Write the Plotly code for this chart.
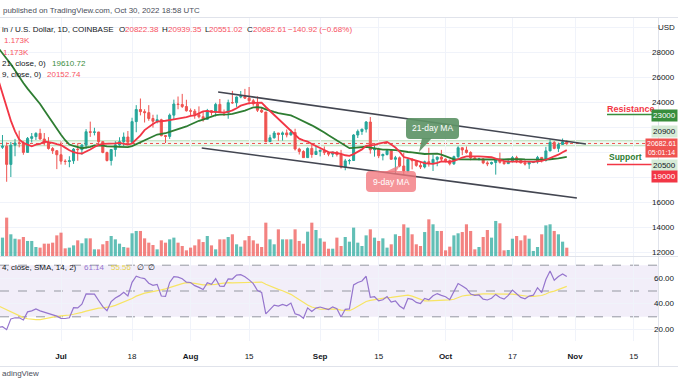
import pandas as pd
import numpy as np
import plotly.graph_objects as go

# ---------------- data ----------------
hist_close = [38470, 38530, 37750, 39690, 36550, 36010, 35470, 34060, 30300, 31010,
              28940, 29050, 29280, 30080, 31310, 29860, 30430, 28720, 30300, 29200,
              29430, 30320, 29100, 29650, 29540, 29200, 28630, 29030, 29470, 31730, 31800,
              29800, 30450, 29700, 29860, 29910, 31370, 31130, 30200, 30110, 29080,
              28420, 26570, 22480, 22130, 22580]

open_ = [22580, 20380, 20470, 19010, 20550, 20720, 20710, 19970, 21090, 21230, 21490, 21040, 20730, 20280, 20100,
         19780, 19270, 19240, 19300, 20230, 20190, 20550, 21620, 21580, 21600, 20830, 19960, 19320, 20200, 20570,
         20830, 21200, 20780, 22430, 23400, 23230, 23150, 22680, 22460, 22580, 21310, 21250, 22950, 23840, 23800, 23640,
         23300, 23270, 22980, 22820, 22620, 23310, 23180, 23810, 23160, 23150, 23950, 23940, 24400, 24440, 24310,
         24100, 23850, 23340, 23200, 20830, 21140, 21520, 21400, 21530, 21370, 21560, 20240, 20040, 19550, 20290, 19800,
         20050, 20130, 19950, 19830, 20000, 19800, 18800, 19290, 19320, 21360, 21650, 21830, 22400, 20180, 20240,
         19700, 19800, 20110, 19420, 19540, 18880, 18490, 19410, 19300, 18930, 18800, 19220, 19080, 19410, 19590,
         19430, 19310, 19060, 19630, 20340, 20160, 19960, 19530, 19420, 19450, 19130, 19060, 19160, 19380, 19180,
         19070, 19260, 19550, 19330, 19130, 19040, 19170, 19210, 19570, 19330, 20090, 20770, 20290, 20600, 20822.38]
high = [22970, 21360, 20770, 20800, 21050, 21710, 20860, 21200, 21520, 21580, 21860, 21520, 21190, 20400, 20160,
        20850, 19420, 19660, 20320, 20710, 20650, 21830, 22430, 21940, 21610, 20840, 20030, 20220, 20860, 21180,
        21560, 21680, 22740, 23750, 24280, 23420, 23750, 22980, 22990, 22660, 21350, 23080, 24190, 24440, 24650, 24180,
        23480, 23440, 23650, 23210, 23450, 23360, 23940, 24240, 23400, 24190, 24890, 24440, 24880, 25050, 25200,
        24250, 24450, 23580, 23200, 21380, 21680, 21520, 21640, 21800, 21800, 21860, 20340, 20140, 20370, 20560, 20480,
        20200, 20440, 20000, 20010, 20050, 20170, 19450, 19450, 21430, 21800, 21850, 22480, 22800, 20540, 20340,
        19880, 20190, 20110, 19690, 19640, 19940, 19490, 19500, 19310, 19180, 19310, 20340, 19780, 19640, 20170,
        19480, 19400, 19710, 20460, 20370, 20440, 20060, 19620, 19550, 19520, 19260, 19230, 19510, 19950, 19230,
        19420, 19680, 19700, 19350, 19340, 19250, 19250, 19690, 19600, 20410, 21020, 20870, 20750, 21080, 20939.35]
low = [20230, 20250, 17620, 18000, 19660, 20370, 19780, 19920, 20760, 20960, 20990, 20530, 20190, 19850, 18630,
       19000, 18980, 18780, 19050, 19300, 19780, 20260, 21210, 21330, 20670, 19900, 19240, 18920, 19630, 20390,
       20480, 20760, 20750, 21580, 22930, 22360, 22500, 21950, 22290, 21250, 20720, 21050, 22580, 23420, 23520, 23230,
       22870, 22660, 22690, 22430, 22590, 22920, 22840, 23150, 22880, 22660, 23860, 23610, 24300, 24240, 23800,
       23700, 23200, 23120, 20780, 20800, 21070, 20890, 20910, 21170, 21310, 20120, 19800, 19530, 19530, 19540, 19800,
       19650, 19760, 19660, 19590, 19640, 18680, 18540, 19010, 19300, 21120, 21370, 21560, 19870, 19630, 19510,
       19330, 19720, 19380, 18240, 18780, 18160, 18360, 18610, 18820, 18640, 18690, 18830, 18480, 18860, 19200,
       19170, 18930, 18960, 19510, 19750, 19870, 19340, 19360, 19330, 19030, 18870, 18980, 18190, 19080, 18980,
       19070, 19160, 19110, 19080, 18920, 18650, 19110, 19070, 19160, 19240, 20060, 20220, 20000, 20560, 20551.02]
close = [20380, 20470, 19010, 20550, 20720, 20710, 19970, 21090, 21230, 21490, 21040, 20730, 20280, 20100, 19780,
         19270, 19240, 19300, 20230, 20190, 20550, 21620, 21580, 21600, 20830, 19960, 19320, 20200, 20570, 20830,
         21200, 20780, 22430, 23400, 23230, 23150, 22680, 22460, 22580, 21310, 21250, 22950, 23840, 23800, 23640, 23300,
         23270, 22980, 22820, 22620, 23310, 23180, 23810, 23160, 23150, 23950, 23940, 24400, 24440, 24310, 24100,
         23850, 23340, 23200, 20830, 21140, 21520, 21400, 21530, 21370, 21560, 20240, 20040, 19550, 20290, 19800, 20050,
         20130, 19950, 19830, 20000, 19800, 18800, 19290, 19320, 21360, 21650, 21830, 22400, 20180, 20240, 19700,
         19800, 20110, 19420, 19540, 18880, 18490, 19410, 19300, 18930, 18800, 19220, 19080, 19410, 19590, 19430,
         19310, 19060, 19630, 20340, 20160, 19960, 19530, 19420, 19450, 19130, 19060, 19160, 19380, 19180, 19070,
         19260, 19550, 19330, 19130, 19040, 19170, 19210, 19570, 19330, 20090, 20770, 20290, 20600, 20820, 20682.61]
volume_k = [2.80, 2.59, 5.41, 3.06, 2.44, 2.35, 2.68, 2.12, 2.12, 1.27, 1.18, 1.74, 1.74, 1.88, 2.91,
            3.29, 1.08, 1.18, 1.50, 2.21, 1.79, 2.49, 2.49, 0.94, 0.94, 1.65, 2.12, 2.82, 2.35, 1.74,
            1.27, 1.18, 3.20, 3.53, 3.53, 2.49, 1.88, 1.55, 0.94, 2.21, 1.88, 2.35, 2.59, 1.88, 1.41, 0.80,
            1.18, 1.50, 2.35, 1.97, 2.82, 1.50, 0.94, 2.35, 2.35, 2.68, 3.06, 1.65, 1.32, 2.21, 2.82,
            2.21, 1.74, 1.27, 4.70, 2.35, 1.65, 3.76, 2.35, 2.35, 2.35, 3.76, 2.12, 1.74, 3.43, 4.70, 3.67,
            2.49, 2.02, 1.03, 1.03, 2.59, 1.41, 2.68, 2.02, 4.00, 1.88, 1.41, 2.91, 3.76, 2.59, 2.12,
            2.49, 1.18, 1.65, 3.06, 2.82, 4.47, 4.00, 3.06, 1.65, 1.41, 3.38, 5.17, 4.47, 3.53, 3.53,
            0.80, 1.32, 2.91, 3.20, 3.38, 4.47, 3.53, 0.94, 1.27, 2.68, 3.67, 2.59, 4.94, 4.61, 0.80,
            0.85, 2.44, 2.82, 2.21, 2.91, 2.44, 0.71, 1.27, 3.06, 4.32, 4.47, 3.53, 3.06, 2.02, 1.173]

dates = pd.date_range("2022-06-16", periods=len(close), freq="D")

tick_dates = ["2022-07-01", "2022-07-18", "2022-08-01", "2022-08-15", "2022-09-01",
              "2022-09-15", "2022-10-01", "2022-10-17", "2022-11-01", "2022-11-15"]
tick_text = ["<b>Jul</b>", "18", "<b>Aug</b>", "15", "<b>Sep</b>", "15", "<b>Oct</b>", "17", "<b>Nov</b>", "15"]
price_grid = [12000, 14000, 16000, 18000, 20000, 22000, 24000, 26000, 28000, 30000]
price_labels = [12000, 14000, 16000, 24000, 26000, 28000]
rsi_ticks = [20, 40, 60]
rsi_tick_text = ["20.00", "40.00", "60.00"]

channel_upper_x = ["2022-08-07 14:00", "2022-11-03 14:00"]
channel_upper_y = [24800, 20640]
channel_lower_x = ["2022-08-03 16:00", "2022-11-01 10:00"]
channel_lower_y = [20320, 16320]
resistance_level = 23000
support_level = 19000
zone_levels = [20500, 20900]

# ---------------- indicators ----------------
full_close = pd.Series(hist_close + close, dtype=float)
n_hist = len(hist_close)
ma9 = full_close.rolling(9).mean().iloc[n_hist:].values
ma21 = full_close.rolling(21).mean().iloc[n_hist:].values
delta = full_close.diff()
gain = delta.clip(lower=0)
loss = (-delta).clip(lower=0)
rs = gain.ewm(alpha=1/14, adjust=False).mean() / loss.ewm(alpha=1/14, adjust=False).mean()
rsi_full = 100 - 100 / (1 + rs)
rsi_sma_full = rsi_full.rolling(14).mean()
rsi = rsi_full.iloc[n_hist:].values
rsi_sma = rsi_sma_full.iloc[n_hist:].values

# ---------------- geometry ----------------
W, H = 678, 381
def px(x): return x / W
def py(y): return 1 - y / H
X_END = 658
PRICE_TOP, PRICE_BOT = 18, 256
RSI_TOP, RSI_BOT = 257, 341
PPD = 4.18
jul1 = pd.Timestamp("2022-07-01")
x_start = jul1 - pd.Timedelta(days=61 / PPD)
x_end = jul1 + pd.Timedelta(days=(X_END - 61) / PPD)
PRICE_RANGE = [20000 - (PRICE_BOT - 152) * 80, 20000 + (152 - PRICE_TOP) * 80]
RSI_RANGE = [50 - (RSI_BOT - 291) / 1.29, 50 + (291 - RSI_TOP) / 1.29]
VOL_RANGE = [0, (PRICE_BOT - PRICE_TOP) * 0.141]

UP, DOWN = "#26a69a", "#ef5350"
GRID = "#f0f3fa"
FONT = "Liberation Sans"
TXT = "#131722"

fig = go.Figure()
vol_colors = ["rgba(38,166,154,0.72)" if c >= o else "rgba(239,83,80,0.72)" for o, c in zip(open_, close)]
fig.add_trace(go.Bar(x=dates, y=volume_k, marker_color=vol_colors, marker_line_width=0,
                     xaxis="x", yaxis="y3", showlegend=False, hoverinfo="skip"))
fig.add_trace(go.Candlestick(x=dates, open=open_, high=high, low=low, close=close,
                             increasing=dict(line=dict(color=UP, width=1), fillcolor=UP),
                             decreasing=dict(line=dict(color=DOWN, width=1), fillcolor=DOWN),
                             whiskerwidth=0, xaxis="x", yaxis="y", showlegend=False))
fig.add_trace(go.Scatter(x=dates, y=ma21, mode="lines", line=dict(color="#2e7d32", width=1.8),
                         xaxis="x", yaxis="y", showlegend=False))
fig.add_trace(go.Scatter(x=dates, y=ma9, mode="lines", line=dict(color="#f23645", width=1.8),
                         xaxis="x", yaxis="y", showlegend=False))
fig.add_trace(go.Scatter(x=dates, y=rsi_sma, mode="lines", line=dict(color="#f7e463", width=1.2),
                         xaxis="x2", yaxis="y2", showlegend=False))
fig.add_trace(go.Scatter(x=dates, y=rsi, mode="lines", line=dict(color="#9575cd", width=1.2),
                         xaxis="x2", yaxis="y2", showlegend=False))

shapes = []
shapes.append(dict(type="rect", xref="x2", yref="y2", x0=x_start, x1=x_end, y0=30, y1=70,
                   fillcolor="rgba(126,87,194,0.10)", line_width=0, layer="below"))
for lv in [30, 50, 70]:
    shapes.append(dict(type="line", xref="x2", yref="y2", x0=x_start, x1=x_end, y0=lv, y1=lv,
                       line=dict(color="#9598a1", width=1, dash="dash"), layer="below"))
shapes.append(dict(type="rect", xref="x", yref="y", x0=x_start, x1=x_end, y0=zone_levels[0], y1=zone_levels[1],
                   fillcolor="rgba(200,230,201,0.25)", line_width=0, layer="below"))
for lv in zone_levels:
    shapes.append(dict(type="line", xref="x", yref="y", x0=x_start, x1=x_end, y0=lv, y1=lv,
                       line=dict(color="rgba(129,199,132,0.55)", width=1), layer="below"))
shapes.append(dict(type="line", xref="x", yref="y", x0=x_start, x1=x_end, y0=close[-1], y1=close[-1],
                   line=dict(color=DOWN, width=1, dash="dot"), layer="below"))
shapes.append(dict(type="line", xref="x", yref="y", x0=channel_upper_x[0], x1=channel_upper_x[1],
                   y0=channel_upper_y[0], y1=channel_upper_y[1], line=dict(color="#434651", width=1.6)))
shapes.append(dict(type="line", xref="x", yref="y", x0=channel_lower_x[0], x1=channel_lower_x[1],
                   y0=channel_lower_y[0], y1=channel_lower_y[1], line=dict(color="#434651", width=1.6)))
rs_x0 = jul1 + pd.Timedelta(days=(607 - 61) / PPD)
shapes.append(dict(type="line", xref="x", yref="y", x0=rs_x0, x1=x_end, y0=resistance_level, y1=resistance_level,
                   line=dict(color="#388e3c", width=1.6)))
shapes.append(dict(type="line", xref="x", yref="y", x0=rs_x0, x1=x_end, y0=support_level, y1=support_level,
                   line=dict(color="#f23645", width=1.6)))

def hline(y, x0=0, x1=W, color="#e0e3eb"):
    shapes.append(dict(type="line", xref="paper", yref="paper", x0=px(x0), x1=px(x1), y0=py(y), y1=py(y),
                       line=dict(color=color, width=1)))
def vline(x, y0, y1, color="#e0e3eb"):
    shapes.append(dict(type="line", xref="paper", yref="paper", x0=px(x), x1=px(x), y0=py(y0), y1=py(y1),
                       line=dict(color=color, width=1)))
hline(17.5)
hline(256.5)
hline(366.5)
vline(X_END + 0.5, 17.5, 366.5)

def rrect(x0, y0, x1, y1, r=4):
    rx, ry = r / W, r / H
    X0, X1, Y0, Y1 = px(x0), px(x1), py(y1), py(y0)
    return (f"M{X0+rx},{Y0} L{X1-rx},{Y0} Q{X1},{Y0} {X1},{Y0+ry} L{X1},{Y1-ry} Q{X1},{Y1} {X1-rx},{Y1} "
            f"L{X0+rx},{Y1} Q{X0},{Y1} {X0},{Y1-ry} L{X0},{Y0+ry} Q{X0},{Y0} {X0+rx},{Y0} Z")
def tri(pts):
    return "M" + " L".join(f"{px(a)},{py(b)}" for a, b in pts) + " Z"
G_CALL, R_CALL = "rgba(94,148,103,0.92)", "rgba(242,118,124,0.78)"
shapes.append(dict(type="path", xref="paper", yref="paper", path=rrect(406, 118, 459, 139), fillcolor=G_CALL, line_width=0))
shapes.append(dict(type="path", xref="paper", yref="paper", path=tri([(422, 138), (432, 138), (419, 152)]), fillcolor=G_CALL, line_width=0))
shapes.append(dict(type="path", xref="paper", yref="paper", path=rrect(366, 171, 416, 192), fillcolor=R_CALL, line_width=0))
shapes.append(dict(type="path", xref="paper", yref="paper", path=tri([(385, 172), (396, 172), (400, 165)]), fillcolor=R_CALL, line_width=0))

ann = []
def text(x, y, s, color=TXT, size=8, anchor="left", bg=None, bold=False, yanchor="middle", yref="paper", pad=1):
    d = dict(xref="paper", yref=yref, x=px(x), y=(py(y) if yref == "paper" else y),
             text=(f"<b>{s}</b>" if bold else s), showarrow=False,
             xanchor=anchor, yanchor=yanchor, font=dict(family=FONT, size=size, color=color))
    if bg:
        d.update(bgcolor=bg, borderpad=pad)
    ann.append(d)

RED_T = "#f7525f"
text(1, 10, "published on TradingView.com, Oct 30, 2022 18:58 UTC", color="#4a4e5a", size=7.9)
text(0, 29, "in / U.S. Dollar, 1D, COINBASE")
text(117, 29, "O"); text(123, 29, "20822.38", color=RED_T)
text(160, 29, "H"); text(166, 29, "20939.35", color=RED_T)
text(203, 29, "L"); text(207, 29, "20551.02", color=RED_T)
text(245, 29, "C"); text(251, 29, "20682.61", color=RED_T)
text(286, 29, "\u2212140.92 (\u22120.68%)", color=RED_T)
text(2, 41, "1.173K", color=RED_T)
text(1, 52, "1.173K", color=RED_T)
text(0, 63, "21, close, 0)")
text(50, 63, "19610.72", color="#388e3c")
text(0, 74, "9, close, 0)")
text(45, 74, "20152.74", color=RED_T)
text(0, 267, "4, close, SMA, 14, 2)")
text(82, 267, "61.14", color="#9575cd")
text(109, 267, "55.56", color="#e8d44d")
text(135, 267, "\u2205"); text(146, 267, "\u2205")
text(0, 373, "adingView", color="#4a4e5a", size=8)

text(432.5, 128.5, "21-day MA", color="white", size=8.5, anchor="center")
text(391, 181.5, "9-day MA", color="white", size=8.5, anchor="center")
text(631, 109, "Resistance", color="#f23645", size=9, anchor="center", bold=True)
text(607, 157, "Support", color="#2e7d32", size=8.5, bold=True)

# price scale labels (right edge)
text(677, 28, "USD", anchor="right")
for p in price_labels:
    text(677, p, f"{p}", anchor="right", yref="y")
for r, t in zip(rsi_ticks, rsi_tick_text):
    ann.append(dict(xref="paper", yref="y2", x=px(677), y=r, text=t, showarrow=False, xanchor="right",
                    yanchor="middle", font=dict(family=FONT, size=8, color=TXT)))
text(678, 115, "23000", color="white", bg="#388e3c", anchor="right")
text(678, 131.5, "20900", color=TXT, bg="#d6ebd7", anchor="right")
text(678, 147.5, "20682.61<br>05:01:14", color="white", bg="#ef5350", anchor="right", size=7, pad=1)
text(678, 165.5, "20500", color=TXT, bg="#d6ebd7", anchor="right")
text(678, 176.5, "19000", color="white", bg="#f23645", anchor="right")

fig.update_layout(
    width=W, height=H, margin=dict(l=0, r=0, t=0, b=0, autoexpand=False),
    paper_bgcolor="white", plot_bgcolor="white", showlegend=False,
    bargap=0.25, font=dict(family=FONT, size=8, color=TXT),
    xaxis=dict(domain=[0, px(X_END)], range=[x_start, x_end], type="date", anchor="y", automargin=False,
               tickvals=tick_dates, showticklabels=False, showgrid=True, gridcolor=GRID, gridwidth=1,
               zeroline=False, showline=False, rangeslider=dict(visible=False), fixedrange=True),
    yaxis=dict(domain=[py(PRICE_BOT), py(PRICE_TOP)], range=PRICE_RANGE, side="right", anchor="x",
               automargin=False, tickvals=price_grid, showticklabels=False, showgrid=True, gridcolor=GRID,
               zeroline=False, ticks=""),
    yaxis3=dict(overlaying="y", range=VOL_RANGE, visible=False, anchor="x", automargin=False),
    xaxis2=dict(domain=[0, px(X_END)], range=[x_start, x_end], type="date", anchor="y2", matches="x",
                automargin=False, tickvals=tick_dates, ticktext=tick_text, showgrid=True, gridcolor=GRID,
                zeroline=False, showline=False, ticks="", ticklabelstandoff=9,
                tickfont=dict(size=8, color=TXT)),
    yaxis2=dict(domain=[py(RSI_BOT), py(RSI_TOP)], range=RSI_RANGE, side="right", anchor="x2",
                automargin=False, tickvals=rsi_ticks, showticklabels=False, showgrid=True, gridcolor=GRID,
                zeroline=False, ticks=""),
    shapes=shapes, annotations=ann,
)
fig.write_html("out.html", config={"displayModeBar": False},
               post_script="document.body.style.margin='0';document.body.style.overflow='hidden';")
